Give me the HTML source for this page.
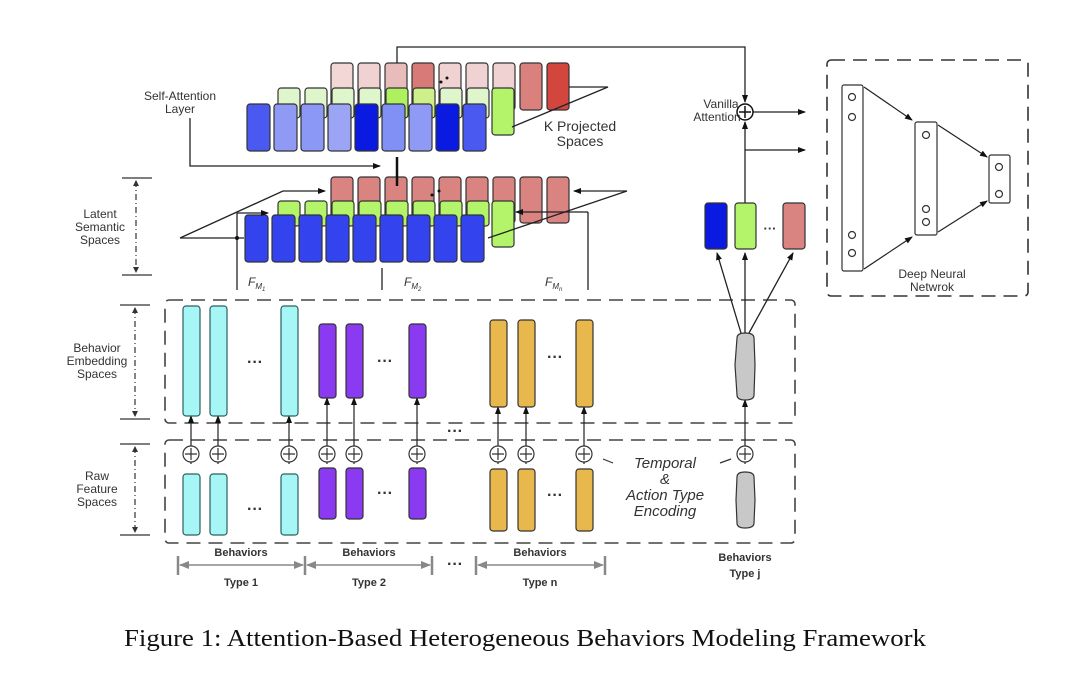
<!DOCTYPE html>
<html><head><meta charset="utf-8"><style>
html,body{margin:0;padding:0;background:#fff;}
svg{display:block;}
text{font-family:"Liberation Sans",sans-serif;fill:#333;}
</style></head><body>
<svg width="1080" height="683" viewBox="0 0 1080 683" xmlns="http://www.w3.org/2000/svg">
<defs>
<marker id="a" markerWidth="8" markerHeight="8" refX="7" refY="4" orient="auto" markerUnits="userSpaceOnUse"><path d="M0,1 L8,4 L0,7 z" fill="#111"/></marker>
<marker id="g" markerWidth="10" markerHeight="10" refX="9" refY="5" orient="auto-start-reverse" markerUnits="userSpaceOnUse"><path d="M0,1 L10,5 L0,9 z" fill="#888"/></marker>
</defs>
<g stroke="#333" stroke-width="1.2">
<rect x="331" y="63" width="22" height="47" rx="3" fill="#f3d6d6"/>
<rect x="358" y="63" width="22" height="47" rx="3" fill="#f1d2d2"/>
<rect x="385" y="63" width="22" height="47" rx="3" fill="#e9bcbc"/>
<rect x="412" y="63" width="22" height="47" rx="3" fill="#d77a78"/>
<rect x="439" y="63" width="22" height="47" rx="3" fill="#f1d2d2"/>
<rect x="466" y="63" width="22" height="47" rx="3" fill="#f1d2d2"/>
<rect x="493" y="63" width="22" height="47" rx="3" fill="#f1d2d2"/>
<rect x="520" y="63" width="22" height="47" rx="3" fill="#da817e"/>
<rect x="547" y="63" width="22" height="47" rx="3" fill="#d2463e"/>
<rect x="278" y="88" width="22" height="30" rx="3" fill="#dff5cc"/>
<rect x="305" y="88" width="22" height="30" rx="3" fill="#dff5cc"/>
<rect x="332" y="88" width="22" height="30" rx="3" fill="#dff5cc"/>
<rect x="359" y="88" width="22" height="30" rx="3" fill="#dff5cc"/>
<rect x="386" y="88" width="22" height="30" rx="3" fill="#aef060"/>
<rect x="413" y="88" width="22" height="30" rx="3" fill="#cdf08a"/>
<rect x="440" y="88" width="22" height="30" rx="3" fill="#dff5cc"/>
<rect x="467" y="88" width="22" height="30" rx="3" fill="#dff5cc"/>
<rect x="492" y="88" width="22" height="47" rx="3" fill="#b4f46a"/>
<rect x="247" y="104" width="23" height="47" rx="3" fill="#4a5af0"/>
<rect x="274" y="104" width="23" height="47" rx="3" fill="#8f9af5"/>
<rect x="301" y="104" width="23" height="47" rx="3" fill="#8c98f5"/>
<rect x="328" y="104" width="23" height="47" rx="3" fill="#9ba4f5"/>
<rect x="355" y="104" width="23" height="47" rx="3" fill="#0a1ae0"/>
<rect x="382" y="104" width="23" height="47" rx="3" fill="#8090f5"/>
<rect x="409" y="104" width="23" height="47" rx="3" fill="#8f9af5"/>
<rect x="436" y="104" width="23" height="47" rx="3" fill="#0a1ae0"/>
<rect x="463" y="104" width="23" height="47" rx="3" fill="#4a5af0"/>
</g>
<polyline points="569,87 608,87 512,127" fill="none" stroke="#222" stroke-width="1.3"/>
<circle cx="441" cy="82" r="1.5" fill="#111"/><circle cx="447" cy="78" r="1.5" fill="#111"/>
<text x="180" y="100" font-size="12" text-anchor="middle">Self-Attention</text>
<text x="180" y="113" font-size="12" text-anchor="middle">Layer</text>
<text x="580" y="131" font-size="14" text-anchor="middle">K Projected</text>
<text x="580" y="146" font-size="14" text-anchor="middle">Spaces</text>
<polyline points="190,118 190,166 380,166" fill="none" stroke="#222" stroke-width="1.3" marker-end="url(#a)"/>
<polyline points="397,63 397,47 745,47 745,102" fill="none" stroke="#222" stroke-width="1.3" marker-end="url(#a)"/>

<g stroke="#333" stroke-width="1.2">
<rect x="331" y="177" width="22" height="46" rx="3" fill="#d98480"/>
<rect x="358" y="177" width="22" height="46" rx="3" fill="#d98480"/>
<rect x="385" y="177" width="22" height="46" rx="3" fill="#d98480"/>
<rect x="412" y="177" width="22" height="46" rx="3" fill="#d98480"/>
<rect x="439" y="177" width="22" height="46" rx="3" fill="#d98480"/>
<rect x="466" y="177" width="22" height="46" rx="3" fill="#d98480"/>
<rect x="493" y="177" width="22" height="46" rx="3" fill="#d98480"/>
<rect x="520" y="177" width="22" height="46" rx="3" fill="#d98480"/>
<rect x="547" y="177" width="22" height="46" rx="3" fill="#d98480"/>
<rect x="278" y="201" width="22" height="25" rx="3" fill="#b4f46a"/>
<rect x="305" y="201" width="22" height="25" rx="3" fill="#b4f46a"/>
<rect x="332" y="201" width="22" height="25" rx="3" fill="#b4f46a"/>
<rect x="359" y="201" width="22" height="25" rx="3" fill="#b4f46a"/>
<rect x="386" y="201" width="22" height="25" rx="3" fill="#b4f46a"/>
<rect x="413" y="201" width="22" height="25" rx="3" fill="#b4f46a"/>
<rect x="440" y="201" width="22" height="25" rx="3" fill="#b4f46a"/>
<rect x="467" y="201" width="22" height="25" rx="3" fill="#b4f46a"/>
<rect x="492" y="201" width="22" height="46" rx="3" fill="#b4f46a"/>
<rect x="245" y="215" width="23" height="47" rx="3" fill="#3344ee"/>
<rect x="272" y="215" width="23" height="47" rx="3" fill="#3344ee"/>
<rect x="299" y="215" width="23" height="47" rx="3" fill="#3344ee"/>
<rect x="326" y="215" width="23" height="47" rx="3" fill="#3344ee"/>
<rect x="353" y="215" width="23" height="47" rx="3" fill="#3344ee"/>
<rect x="380" y="215" width="23" height="47" rx="3" fill="#3344ee"/>
<rect x="407" y="215" width="23" height="47" rx="3" fill="#3344ee"/>
<rect x="434" y="215" width="23" height="47" rx="3" fill="#3344ee"/>
<rect x="461" y="215" width="23" height="47" rx="3" fill="#3344ee"/>
</g>
<line x1="397" y1="157" x2="397" y2="186" stroke="#111" stroke-width="2.5"/>
<circle cx="432" cy="195" r="1.5" fill="#111"/><circle cx="439" cy="191" r="1.5" fill="#111"/>
<g fill="none" stroke="#222" stroke-width="1.3">
<polyline points="180,238 283,191 325,191" marker-end="url(#a)"/>
<line x1="180" y1="238" x2="244" y2="238"/>
<line x1="237" y1="213" x2="268" y2="213" marker-end="url(#a)"/>
<polyline points="627,191 488,238" />
<line x1="627" y1="191" x2="574" y2="191" marker-end="url(#a)"/>
<line x1="588" y1="212" x2="516" y2="212" marker-end="url(#a)"/>
<line x1="237" y1="213" x2="237" y2="290"/>
<line x1="382" y1="268" x2="382" y2="290"/>
<line x1="588" y1="212" x2="588" y2="290"/>
</g>
<circle cx="237" cy="238" r="2" fill="#111"/>
<text x="248" y="286" font-size="12" font-style="italic">F<tspan font-size="8" dy="3">M<tspan font-size="6" dy="2">1</tspan></tspan></text>
<text x="404" y="286" font-size="12" font-style="italic">F<tspan font-size="8" dy="3">M<tspan font-size="6" dy="2">2</tspan></tspan></text>
<text x="545" y="286" font-size="12" font-style="italic">F<tspan font-size="8" dy="3">M<tspan font-size="6" dy="2">n</tspan></tspan></text>

<g stroke="#333" stroke-width="1.2" fill="none">
<line x1="122" y1="178" x2="152" y2="178"/><line x1="122" y1="275" x2="152" y2="275"/>
<line x1="136" y1="181" x2="136" y2="272" stroke-dasharray="6,3,1,3"/>
<line x1="120" y1="305" x2="150" y2="305"/><line x1="120" y1="419" x2="150" y2="419"/>
<line x1="135" y1="308" x2="135" y2="416" stroke-dasharray="6,3,1,3"/>
<line x1="120" y1="444" x2="150" y2="444"/><line x1="120" y1="535" x2="150" y2="535"/>
<line x1="135" y1="447" x2="135" y2="532" stroke-dasharray="6,3,1,3"/>
</g>
<g fill="#333"><path d="M133,186 L136,180 L139,186z"/><path d="M133,267 L136,273 L139,267z"/><path d="M132,313 L135,307 L138,313z"/><path d="M132,411 L135,417 L138,411z"/><path d="M132,452 L135,446 L138,452z"/><path d="M132,527 L135,533 L138,527z"/></g>
<g font-size="12" text-anchor="middle">
<text x="100" y="218">Latent</text><text x="100" y="231">Semantic</text><text x="100" y="244">Spaces</text>
<text x="97" y="352">Behavior</text><text x="97" y="365">Embedding</text><text x="97" y="378">Spaces</text>
<text x="97" y="480">Raw</text><text x="97" y="493">Feature</text><text x="97" y="506">Spaces</text>
</g>

<rect x="165" y="300" width="630" height="123" rx="4" fill="none" stroke="#444" stroke-width="1.6" stroke-dasharray="14,8"/>
<rect x="165" y="440" width="630" height="103" rx="4" fill="none" stroke="#444" stroke-width="1.6" stroke-dasharray="14,8"/>

<g stroke="#222" stroke-width="1.2">
<line x1="191" y1="464" x2="191" y2="416" marker-end="url(#a)"/><line x1="218" y1="464" x2="218" y2="416" marker-end="url(#a)"/><line x1="289" y1="464" x2="289" y2="416" marker-end="url(#a)"/>
<line x1="327" y1="464" x2="327" y2="398" marker-end="url(#a)"/><line x1="354" y1="464" x2="354" y2="398" marker-end="url(#a)"/><line x1="417" y1="464" x2="417" y2="398" marker-end="url(#a)"/>
<line x1="498" y1="464" x2="498" y2="407" marker-end="url(#a)"/><line x1="526" y1="464" x2="526" y2="407" marker-end="url(#a)"/><line x1="584" y1="464" x2="584" y2="407" marker-end="url(#a)"/>
<line x1="745" y1="464" x2="745" y2="400" marker-end="url(#a)"/>
</g>
<g stroke="#2b5f5f" stroke-width="1.2" fill="#a7f6f6">
<rect x="183" y="306" width="17" height="110" rx="3"/><rect x="210" y="306" width="17" height="110" rx="3"/><rect x="281" y="306" width="17" height="110" rx="3"/>
<rect x="183" y="474" width="17" height="61" rx="3"/><rect x="210" y="474" width="17" height="61" rx="3"/><rect x="281" y="474" width="17" height="61" rx="3"/>
</g>
<g stroke="#333" stroke-width="1.2" fill="#8a3af0">
<rect x="319" y="324" width="17" height="74" rx="3"/><rect x="346" y="324" width="17" height="74" rx="3"/><rect x="409" y="324" width="17" height="74" rx="3"/>
<rect x="319" y="468" width="17" height="51" rx="3"/><rect x="346" y="468" width="17" height="51" rx="3"/><rect x="409" y="468" width="17" height="51" rx="3"/>
</g>
<g stroke="#333" stroke-width="1.2" fill="#e8b84c">
<rect x="490" y="320" width="17" height="87" rx="3"/><rect x="518" y="320" width="17" height="87" rx="3"/><rect x="576" y="320" width="17" height="87" rx="3"/>
<rect x="490" y="469" width="17" height="62" rx="3"/><rect x="518" y="469" width="17" height="62" rx="3"/><rect x="576" y="469" width="17" height="62" rx="3"/>
</g>
<path d="M737,338 Q737,333 745,333 Q754,333 754,338 L755,365 L754,395 Q754,400 745,400 Q737,400 737,395 L735,365 Z" fill="#c8c8c8" stroke="#333" stroke-width="1.2"/>
<path d="M737,477 Q737,472 745,472 Q754,472 754,477 L755,500 L754,523 Q754,528 745,528 Q737,528 737,523 L736,500 Z" fill="#c8c8c8" stroke="#333" stroke-width="1.2"/>
<g fill="#fff" stroke="#333" stroke-width="1.2">
<circle cx="191" cy="454" r="8"/><circle cx="218" cy="454" r="8"/><circle cx="289" cy="454" r="8"/>
<circle cx="327" cy="454" r="8"/><circle cx="354" cy="454" r="8"/><circle cx="417" cy="454" r="8"/>
<circle cx="498" cy="454" r="8"/><circle cx="526" cy="454" r="8"/><circle cx="584" cy="454" r="8"/>
<circle cx="745" cy="454" r="8"/>
</g>
<g stroke="#333" stroke-width="1.2">
<path d="M185,454h12M191,448v12M212,454h12M218,448v12M283,454h12M289,448v12M321,454h12M327,448v12M348,454h12M354,448v12M411,454h12M417,448v12M492,454h12M498,448v12M520,454h12M526,448v12M578,454h12M584,448v12M739,454h12M745,448v12"/>
<line x1="603" y1="459" x2="613" y2="463"/><line x1="720" y1="463" x2="731" y2="459"/>
</g>
<g font-size="16" font-weight="bold" text-anchor="middle" fill="#222">
<text x="255" y="367">···</text><text x="255" y="514">···</text>
<text x="385" y="366">···</text><text x="385" y="498">···</text>
<text x="555" y="362">···</text><text x="555" y="500">···</text>
<text x="455" y="436">···</text><text x="455" y="569">···</text>
</g>
<g font-size="15" font-style="italic" text-anchor="middle" fill="#333">
<text x="665" y="468">Temporal</text><text x="665" y="484">&amp;</text><text x="665" y="500">Action Type</text><text x="665" y="516">Encoding</text>
</g>

<g stroke="#888" stroke-width="2.5">
<line x1="178" y1="556" x2="178" y2="575"/><line x1="305" y1="556" x2="305" y2="575"/><line x1="432" y1="556" x2="432" y2="575"/>
<line x1="476" y1="556" x2="476" y2="575"/><line x1="605" y1="556" x2="605" y2="575"/>
</g>
<g stroke="#888" stroke-width="1.5">
<line x1="180" y1="565" x2="303" y2="565" marker-start="url(#g)" marker-end="url(#g)"/>
<line x1="307" y1="565" x2="430" y2="565" marker-start="url(#g)" marker-end="url(#g)"/>
<line x1="478" y1="565" x2="603" y2="565" marker-start="url(#g)" marker-end="url(#g)"/>
</g>
<g font-size="11" font-weight="bold" text-anchor="middle" fill="#333">
<text x="241" y="556">Behaviors</text><text x="241" y="586">Type 1</text>
<text x="369" y="556">Behaviors</text><text x="369" y="586">Type 2</text>
<text x="540" y="556">Behaviors</text><text x="540" y="586">Type n</text>
<text x="745" y="561">Behaviors</text><text x="745" y="577">Type j</text>
</g>

<g stroke="#222" stroke-width="1.3" fill="none">
<line x1="741" y1="333" x2="717" y2="253" marker-end="url(#a)"/>
<line x1="745" y1="333" x2="745" y2="253" marker-end="url(#a)"/>
<line x1="749" y1="333" x2="793" y2="253" marker-end="url(#a)"/>
<line x1="745" y1="203" x2="745" y2="122" marker-end="url(#a)"/>
<line x1="745" y1="150" x2="805" y2="150" marker-end="url(#a)"/>
<line x1="753" y1="112" x2="805" y2="112" marker-end="url(#a)"/>
</g>
<rect x="705" y="203" width="22" height="46" rx="3" fill="#0a1ae0" stroke="#333" stroke-width="1.2"/>
<rect x="735" y="203" width="21" height="46" rx="3" fill="#b4f46a" stroke="#333" stroke-width="1.2"/>
<rect x="783" y="203" width="22" height="46" rx="3" fill="#d98480" stroke="#333" stroke-width="1.2"/>
<text x="770" y="233" font-size="13" font-weight="bold" text-anchor="middle" fill="#222">···</text>
<circle cx="745" cy="112" r="8" fill="#fff" stroke="#111" stroke-width="1.5"/>
<path d="M739,112h12M745,106v12" stroke="#111" stroke-width="1.5"/>
<text x="721" y="108" font-size="12" text-anchor="middle">Vanilla</text>
<text x="717" y="121" font-size="12" text-anchor="middle">Attention</text>

<rect x="827" y="60" width="201" height="236" rx="4" fill="none" stroke="#333" stroke-width="1.6" stroke-dasharray="14,8"/>
<g stroke="#333" stroke-width="1.2" fill="#fff">
<rect x="842" y="85" width="21" height="186" rx="2"/>
<rect x="915" y="122" width="22" height="113" rx="2"/>
<rect x="989" y="155" width="21" height="48" rx="2"/>
<circle cx="852" cy="97" r="3.5"/><circle cx="852" cy="117" r="3.5"/><circle cx="852" cy="235" r="3.5"/><circle cx="852" cy="253" r="3.5"/>
<circle cx="926" cy="135" r="3.5"/><circle cx="926" cy="209" r="3.5"/><circle cx="926" cy="222" r="3.5"/>
<circle cx="999" cy="167" r="3.5"/><circle cx="999" cy="194" r="3.5"/>
</g>
<g stroke="#222" stroke-width="1.2">
<line x1="864" y1="87" x2="912" y2="120" marker-end="url(#a)"/>
<line x1="864" y1="269" x2="912" y2="237" marker-end="url(#a)"/>
<line x1="938" y1="125" x2="987" y2="157" marker-end="url(#a)"/>
<line x1="938" y1="232" x2="987" y2="201" marker-end="url(#a)"/>
</g>
<text x="932" y="278" font-size="12" text-anchor="middle">Deep Neural</text>
<text x="932" y="291" font-size="12" text-anchor="middle">Netwrok</text>

<text x="525" y="646" font-size="24" text-anchor="middle" textLength="802" lengthAdjust="spacingAndGlyphs" style="font-family:'Liberation Serif',serif;fill:#111">Figure 1: Attention-Based Heterogeneous Behaviors Modeling Framework</text>
</svg>
</body></html>
